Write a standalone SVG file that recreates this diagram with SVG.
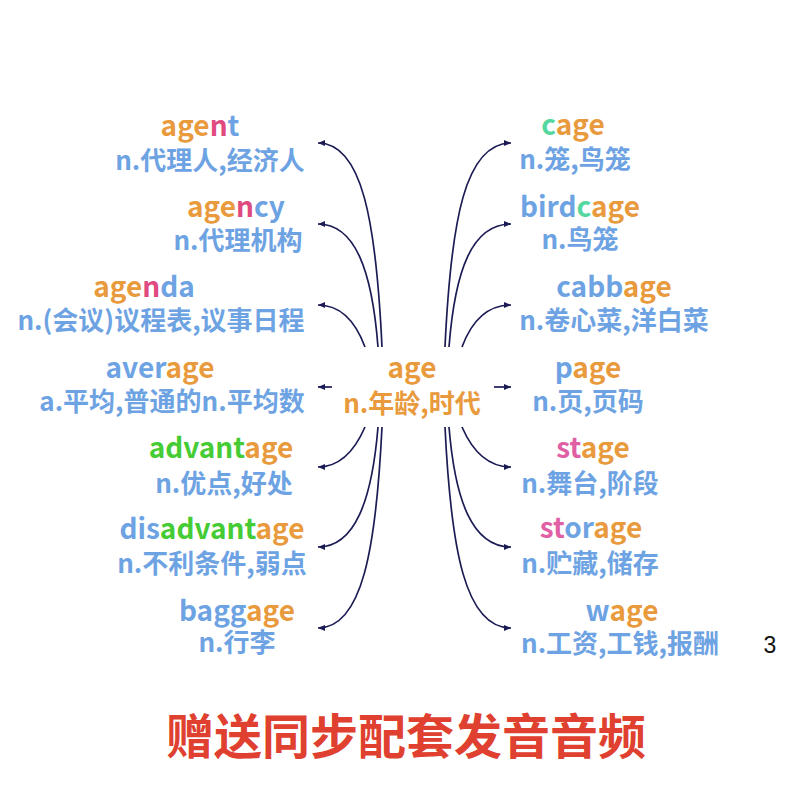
<svg xmlns="http://www.w3.org/2000/svg" width="800" height="800" viewBox="0 0 800 800">
<style>
text{font-family:"Noto Sans CJK SC","Noto Sans",sans-serif;font-weight:700;text-anchor:middle}
.w{font-size:28px}
.m{font-size:26px;fill:#6ea3e3}
.o{fill:#e89a3c}
.b{fill:#6ea3e3}
.p{fill:#e04a7e}
.g{fill:#45cc35}
.c{fill:#55d8a0}
.s{fill:#e05fa5}
.cn{fill:none;stroke:#1c1c55;stroke-width:1.7;marker-end:url(#ah)}
</style>
<defs>
<marker id="ah" markerUnits="userSpaceOnUse" markerWidth="8" markerHeight="8" refX="7" refY="4" orient="auto">
<path d="M0,1 L7,4 L0,7 Z" fill="#1c1c55"/>
</marker>
</defs>
<rect width="800" height="800" fill="#ffffff"/>
<g id="connectors">
<path class="cn" d="M382,347 C376,220 362,143 318,143"/>
<path class="cn" d="M378,347 C372,270 355,224 318,224"/>
<path class="cn" d="M365,347 C355,320 340,305 318,305"/>
<path class="cn" d="M332,387 L318,387"/>
<path class="cn" d="M365,427 C355,450 340,467 318,467"/>
<path class="cn" d="M378,427 C372,500 355,547 318,547"/>
<path class="cn" d="M382,427 C376,550 362,628 318,628"/>
<path class="cn" d="M445,347 C451,220 465,143 511,143"/>
<path class="cn" d="M449,347 C455,270 472,224 511,224"/>
<path class="cn" d="M462,347 C472,320 487,305 511,305"/>
<path class="cn" d="M494,387 L511,387"/>
<path class="cn" d="M462,427 C472,450 487,467 511,467"/>
<path class="cn" d="M449,427 C455,500 472,547 511,547"/>
<path class="cn" d="M445,427 C451,550 465,628 511,628"/>
</g>
<g id="age">
<text class="w o" x="412" y="378">age</text>
<text class="m o" x="412" y="413">n.年龄,时代</text>
</g>
<g id="agent">
<text class="w" x="200" y="136"><tspan class="o">age</tspan><tspan class="p">n</tspan><tspan class="b">t</tspan></text>
<text class="m" x="210" y="170">n.代理人,经济人</text>
</g>
<g id="agency">
<text class="w" x="236" y="217"><tspan class="o">age</tspan><tspan class="p">n</tspan><tspan class="b">cy</tspan></text>
<text class="m" x="238" y="250">n.代理机构</text>
</g>
<g id="agenda">
<text class="w" x="144" y="297"><tspan class="o">age</tspan><tspan class="p">n</tspan><tspan class="b">da</tspan></text>
<text class="m" x="161" y="330">n.(会议)议程表,议事日程</text>
</g>
<g id="average">
<text class="w" x="160" y="378"><tspan class="b">aver</tspan><tspan class="o">age</tspan></text>
<text class="m" x="172" y="411">a.平均,普通的n.平均数</text>
</g>
<g id="advantage">
<text class="w" x="221" y="458"><tspan class="g">advant</tspan><tspan class="o">age</tspan></text>
<text class="m" x="224" y="493">n.优点,好处</text>
</g>
<g id="disadvantage">
<text class="w" x="212" y="539"><tspan class="b">dis</tspan><tspan class="g">advant</tspan><tspan class="o">age</tspan></text>
<text class="m" x="212" y="573">n.不利条件,弱点</text>
</g>
<g id="baggage">
<text class="w" x="237" y="621"><tspan class="b">bagg</tspan><tspan class="o">age</tspan></text>
<text class="m" x="237" y="652">n.行李</text>
</g>
<g id="cage">
<text class="w" x="573" y="135"><tspan class="c">c</tspan><tspan class="o">age</tspan></text>
<text class="m" x="575" y="169">n.笼,鸟笼</text>
</g>
<g id="birdcage">
<text class="w" x="580" y="217"><tspan class="b">bird</tspan><tspan class="c">c</tspan><tspan class="o">age</tspan></text>
<text class="m" x="580" y="249">n.鸟笼</text>
</g>
<g id="cabbage">
<text class="w" x="614" y="297"><tspan class="b">cabb</tspan><tspan class="o">age</tspan></text>
<text class="m" x="614" y="330">n.卷心菜,洋白菜</text>
</g>
<g id="page">
<text class="w" x="588" y="378"><tspan class="b">p</tspan><tspan class="o">age</tspan></text>
<text class="m" x="588" y="411">n.页,页码</text>
</g>
<g id="stage">
<text class="w" x="593" y="458"><tspan class="s">st</tspan><tspan class="o">age</tspan></text>
<text class="m" x="590" y="493">n.舞台,阶段</text>
</g>
<g id="storage">
<text class="w" x="591" y="538"><tspan class="s">st</tspan><tspan class="b">or</tspan><tspan class="o">age</tspan></text>
<text class="m" x="590" y="573">n.贮藏,储存</text>
</g>
<g id="wage">
<text class="w" x="622" y="621"><tspan class="b">w</tspan><tspan class="o">age</tspan></text>
<text class="m" x="620" y="653">n.工资,工钱,报酬</text>
</g>
<text x="770" y="653" style="font-family:'Liberation Sans',sans-serif;font-weight:400;font-size:23px;fill:#111">3</text>
<text x="406" y="754" style="font-size:48px;fill:#e0402f">赠送同步配套发音音频</text>
</svg>
